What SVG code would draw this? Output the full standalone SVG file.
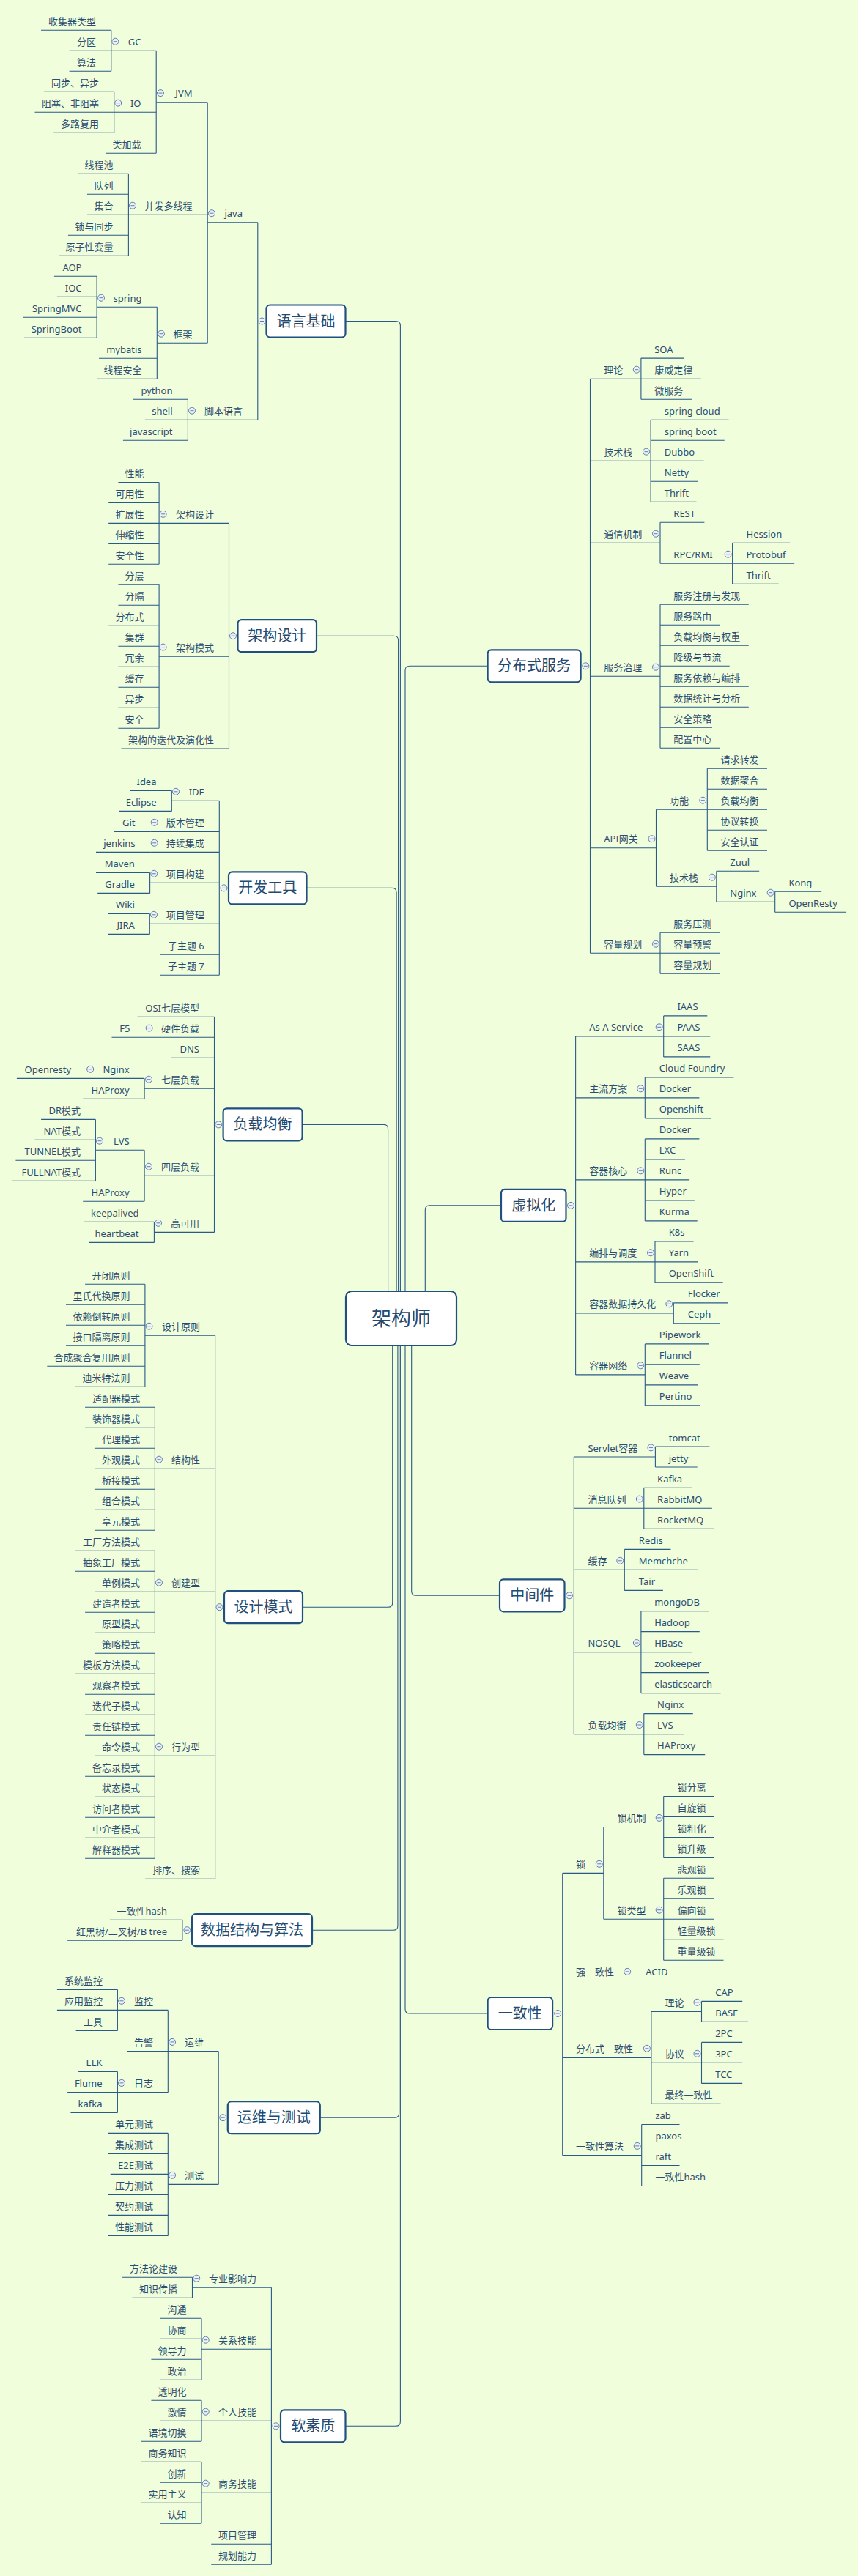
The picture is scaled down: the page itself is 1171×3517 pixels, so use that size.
<svg xmlns="http://www.w3.org/2000/svg" xmlns:xlink="http://www.w3.org/1999/xlink" width="1171" height="3517" viewBox="0 0 1171 3517">
<style>
.t{font-family:"Noto Sans","Noto Sans CJK SC",sans-serif;font-size:13px;fill:#2d4d70}
.e{text-anchor:end}
.m{font-size:20px;text-anchor:middle;fill:#244a70}
.u,.k{fill:none;stroke:#2a5a88;stroke-width:1.1}
.box{fill:#fff;stroke:#1f5080;stroke-width:2.2}
</style>
<defs>
<g id="cc"><circle r="4.5" fill="#eef2f7" stroke="#5d7fa6" stroke-width="1"/><path d="M-2.5 0H2.5" stroke="#5d7fa6" stroke-width="1"/></g>
</defs>
<rect width="1171" height="3517" fill="#f0fedc"/>

<g id="connectors" class="k">
<path d="M471.5 438.5H540.4Q546.4 438.5 546.4 444.5V1800"/>
<path d="M432 868.2H537.6Q543.6 868.2 543.6 874.2V1800"/>
<path d="M418.5 1212.4H535.1Q541.1 1212.4 541.1 1218.4V1800"/>
<path d="M412.5 1535.4H523.6Q529.6 1535.4 529.6 1541.4V1800"/>
<path d="M413 2194.2H529.7Q535.7 2194.2 535.7 2188.2V1800"/>
<path d="M426 2635.2H536.9Q542.9 2635.2 542.9 2629.2V1800"/>
<path d="M437 2891.2H538.6Q544.6 2891.2 544.6 2885.2V1800"/>
<path d="M471.5 3312.3H540.4Q546.4 3312.3 546.4 3306.3V1800"/>
<path d="M665.6 909.3H559Q553 909.3 553 915.3V1800"/>
<path d="M684 1645.9H586.3Q580.3 1645.9 580.3 1651.9V1800"/>
<path d="M682 2178.3H567.7Q561.7 2178.3 561.7 2172.3V1800"/>
<path d="M665.6 2749H559Q553 2749 553 2743V1800"/>
<path d="M151.8 41.3V97.3M155.7 125.3V181.3M213.2 69.3V209.3M175.4 237.3V349.3M132.1 377.3V461.3M214.3 419.3V517.3M283.2 139.7V468.3M256.4 545.3V601.3M351.8 303.8V573.3"/>
<path d="M217.1 658.6V770.3M217.1 798.2V994.2M312.5 714.4V1022.1"/>
<path d="M234.3 1079.4V1107.4M204.6 1191.4V1219.4M204.3 1247.4V1275.4M299.3 1093.4V1331.3"/>
<path d="M197.1 1472.4V1500.4M130.4 1528.4V1612.3M197.1 1570.3V1640.3M210.4 1668.4V1696.4M292.5 1388.3V1682.4"/>
<path d="M197.9 1753.3V1893.3M211.4 1921.3V2089.3M211.4 2117.3V2229.3M211.4 2257.3V2537.3M293.6 1823.3V2565.3"/>
<path d="M248.9 2621.2V2649.2"/>
<path d="M160.4 2716.4V2772.4M160.4 2828.5V2884.5M229.3 2744.4V2856.5M229.3 2912.4V3052.4M298.2 2800.5V2982.4"/>
<path d="M262.5 3109.3V3137.3M275 3165.3V3249.3M275 3277.3V3333.3M275 3361.3V3445.3M370.4 3123.3V3501.3"/>
<path d="M874.9 489.1V545.3M888.1 573.3V685.3M999.6 741.3V797.3M901 713.3V769.3M901 825.3V1021.3M965.3 1049.3V1161.3M1057.7 1217.3V1245.3M977.8 1189.3V1231.3M895.5 1105.3V1210.3M901 1273.3V1329.3M805.5 517.3V1301.3"/>
<path d="M905.7 1386.9V1442.9M880.3 1470.9V1526.9M880.3 1554.9V1666.9M894 1694.9V1750.9M919.3 1778.9V1806.9M880.3 1834.9V1918.9M785.6 1414.9V1876.9"/>
<path d="M894.4 1975V2003M878.8 2031.2V2087.2M852.3 2115.4V2171.4M874.9 2199.6V2311.6M878.8 2339.6V2395.6M783.3 1989V2367.6"/>
<path d="M905.7 2452.5V2536.5M905.7 2564.3V2676.3M823.8 2494.5V2620.3M957.5 2732.4V2760.4M957.5 2788.4V2844.4M888.9 2746.4V2872.4M875.7 2900.5V2984.5M767.7 2557.4V2942.5"/>
</g>

<g id="center"><rect class="box" x="472" y="1763" width="151" height="74" rx="8"/><text class="t m" x="547.5" y="1809.5" style="font-size:27px">架构师</text></g>

<!-- 语言基础 -->
<g id="yuyan"><rect class="box" x="363.5" y="416.5" width="108" height="44" rx="5"/><text class="t m" x="417.5" y="445.5">语言基础</text><use href="#cc" x="357.5" y="438.5"/></g>
<g id="java"><text class="t e" x="331" y="296.3">java</text><use href="#cc" x="289" y="291.2"/><path class="u" d="M283.2 303.8H351.8"/></g>
<g id="jvm"><text class="t e" x="262.5" y="132.2">JVM</text><use href="#cc" x="219" y="127.1"/><path class="u" d="M213.2 139.7H283.2"/></g>
<g id="gc"><text class="t e" x="192.5" y="61.8">GC</text><use href="#cc" x="157.3" y="56.7"/><path class="u" d="M151.8 69.3H213.2"/></g>
<g id="gc1"><text class="t e" x="131" y="33.8">收集器类型</text><path class="u" d="M56 41.3H151.8"/></g>
<g id="gc2"><text class="t e" x="131" y="61.8">分区</text><path class="u" d="M94.6 69.3H151.8"/></g>
<g id="gc3"><text class="t e" x="131" y="89.8">算法</text><path class="u" d="M94.6 97.3H151.8"/></g>
<g id="io"><text class="t e" x="192.5" y="145.8">IO</text><use href="#cc" x="161.2" y="140.7"/><path class="u" d="M155.7 153.3H213.2"/></g>
<g id="io1"><text class="t e" x="135" y="117.8">同步、异步</text><path class="u" d="M60 125.3H155.7"/></g>
<g id="io2"><text class="t e" x="135" y="145.8">阻塞、非阻塞</text><path class="u" d="M47.5 153.3H155.7"/></g>
<g id="io3"><text class="t e" x="135" y="173.8">多路复用</text><path class="u" d="M73.2 181.3H155.7"/></g>
<g id="cl"><text class="t e" x="192.5" y="201.8">类加载</text><path class="u" d="M144 209.3H213.2"/></g>
<g id="bf"><text class="t e" x="262.5" y="285.8">并发多线程</text><use href="#cc" x="181" y="280.7"/><path class="u" d="M175.4 293.3H283.2"/></g>
<g id="bf1"><text class="t e" x="154.5" y="229.8">线程池</text><path class="u" d="M106.4 237.3H175.4"/></g>
<g id="bf2"><text class="t e" x="154.5" y="257.8">队列</text><path class="u" d="M119 265.3H175.4"/></g>
<g id="bf3"><text class="t e" x="154.5" y="285.8">集合</text><path class="u" d="M119 293.3H175.4"/></g>
<g id="bf4"><text class="t e" x="154.5" y="313.8">锁与同步</text><path class="u" d="M92.9 321.3H175.4"/></g>
<g id="bf5"><text class="t e" x="154.5" y="341.8">原子性变量</text><path class="u" d="M80.4 349.3H175.4"/></g>
<g id="kj"><text class="t e" x="262.5" y="460.8">框架</text><use href="#cc" x="220" y="455.7"/><path class="u" d="M214.3 468.3H283.2"/></g>
<g id="sp"><text class="t e" x="193.5" y="411.8">spring</text><use href="#cc" x="138" y="406.7"/><path class="u" d="M132.1 419.3H214.3"/></g>
<g id="sp1"><text class="t e" x="111.5" y="369.8">AOP</text><path class="u" d="M73.9 377.3H132.1"/></g>
<g id="sp2"><text class="t e" x="111.5" y="397.8">IOC</text><path class="u" d="M77.9 405.3H132.1"/></g>
<g id="sp3"><text class="t e" x="111.5" y="425.8">SpringMVC</text><path class="u" d="M31.4 433.3H132.1"/></g>
<g id="sp4"><text class="t e" x="111.5" y="453.8">SpringBoot</text><path class="u" d="M32.9 461.3H132.1"/></g>
<g id="kj2"><text class="t e" x="193.5" y="481.8">mybatis</text><path class="u" d="M135 489.3H214.3"/></g>
<g id="kj3"><text class="t e" x="193.5" y="509.8">线程安全</text><path class="u" d="M132.1 517.3H214.3"/></g>
<g id="jb"><text class="t e" x="331" y="565.8">脚本语言</text><use href="#cc" x="262" y="560.7"/><path class="u" d="M256.4 573.3H351.8"/></g>
<g id="jb1"><text class="t e" x="235.5" y="537.8">python</text><path class="u" d="M181 545.3H256.4"/></g>
<g id="jb2"><text class="t e" x="235.5" y="565.8">shell</text><path class="u" d="M198 573.3H256.4"/></g>
<g id="jb3"><text class="t e" x="235.5" y="593.8">javascript</text><path class="u" d="M167.9 601.3H256.4"/></g>

<!-- 架构设计 -->
<g id="jg"><rect class="box" x="324.5" y="846.2" width="107.5" height="44" rx="5"/><text class="t m" x="378.3" y="875.2">架构设计</text><use href="#cc" x="318" y="868.2"/></g>
<g id="jgs"><text class="t e" x="292" y="706.9">架构设计</text><use href="#cc" x="222.6" y="701.8"/><path class="u" d="M217.1 714.4H312.5"/></g>
<g id="jgs1"><text class="t e" x="196.5" y="651.1">性能</text><path class="u" d="M161.4 658.6H217.1"/></g>
<g id="jgs2"><text class="t e" x="196.5" y="679">可用性</text><path class="u" d="M148.2 686.5H217.1"/></g>
<g id="jgs3"><text class="t e" x="196.5" y="706.9">扩展性</text><path class="u" d="M148.2 714.4H217.1"/></g>
<g id="jgs4"><text class="t e" x="196.5" y="734.9">伸缩性</text><path class="u" d="M148.2 742.4H217.1"/></g>
<g id="jgs5"><text class="t e" x="196.5" y="762.8">安全性</text><path class="u" d="M148.2 770.3H217.1"/></g>
<g id="jgm"><text class="t e" x="292" y="888.7">架构模式</text><use href="#cc" x="222.6" y="883.6"/><path class="u" d="M217.1 896.2H312.5"/></g>
<g id="jgm1"><text class="t e" x="196.5" y="790.7">分层</text><path class="u" d="M161.4 798.2H217.1"/></g>
<g id="jgm2"><text class="t e" x="196.5" y="818.7">分隔</text><path class="u" d="M161.4 826.2H217.1"/></g>
<g id="jgm3"><text class="t e" x="196.5" y="846.7">分布式</text><path class="u" d="M148.2 854.2H217.1"/></g>
<g id="jgm4"><text class="t e" x="196.5" y="874.7">集群</text><path class="u" d="M161.4 882.2H217.1"/></g>
<g id="jgm5"><text class="t e" x="196.5" y="902.7">冗余</text><path class="u" d="M161.4 910.2H217.1"/></g>
<g id="jgm6"><text class="t e" x="196.5" y="930.7">缓存</text><path class="u" d="M161.4 938.2H217.1"/></g>
<g id="jgm7"><text class="t e" x="196.5" y="958.7">异步</text><path class="u" d="M161.4 966.2H217.1"/></g>
<g id="jgm8"><text class="t e" x="196.5" y="986.7">安全</text><path class="u" d="M161.4 994.2H217.1"/></g>
<g id="jgd"><text class="t e" x="292" y="1014.6">架构的迭代及演化性</text><path class="u" d="M165.4 1022.1H312.5"/></g>

<!-- 开发工具 -->
<g id="kf"><rect class="box" x="312" y="1190.4" width="106.5" height="44" rx="5"/><text class="t m" x="365.3" y="1219.4">开发工具</text><use href="#cc" x="305.5" y="1212.4"/></g>
<g id="ide"><text class="t e" x="278.8" y="1085.9">IDE</text><use href="#cc" x="240" y="1080.8"/><path class="u" d="M234.3 1093.4H299.3"/></g>
<g id="ide1"><text class="t e" x="213.5" y="1071.9">Idea</text><path class="u" d="M177.5 1079.4H234.3"/></g>
<g id="ide2"><text class="t e" x="213.5" y="1099.9">Eclipse</text><path class="u" d="M162.5 1107.4H234.3"/></g>
<g id="vc"><text class="t e" x="278.8" y="1127.9">版本管理</text><use href="#cc" x="210.7" y="1122.8"/><path class="u" d="M205.2 1135.4H299.3"/></g>
<g id="vc1"><text class="t e" x="184.5" y="1127.9">Git</text><path class="u" d="M156 1135.4H205.2"/></g>
<g id="ci"><text class="t e" x="278.8" y="1155.9">持续集成</text><use href="#cc" x="210.7" y="1150.8"/><path class="u" d="M205.2 1163.4H299.3"/></g>
<g id="ci1"><text class="t e" x="184.5" y="1155.9">jenkins</text><path class="u" d="M131 1163.4H205.2"/></g>
<g id="pb"><text class="t e" x="278.8" y="1197.9">项目构建</text><use href="#cc" x="210.3" y="1192.8"/><path class="u" d="M204.6 1205.4H299.3"/></g>
<g id="pb1"><text class="t e" x="183.8" y="1183.9">Maven</text><path class="u" d="M131 1191.4H204.6"/></g>
<g id="pb2"><text class="t e" x="183.8" y="1211.9">Gradle</text><path class="u" d="M133.2 1219.4H204.6"/></g>
<g id="pm"><text class="t e" x="278.8" y="1253.9">项目管理</text><use href="#cc" x="210" y="1248.8"/><path class="u" d="M204.3 1261.4H299.3"/></g>
<g id="pm1"><text class="t e" x="183.8" y="1239.9">Wiki</text><path class="u" d="M147.5 1247.4H204.3"/></g>
<g id="pm2"><text class="t e" x="183.8" y="1267.9">JIRA</text><path class="u" d="M147.5 1275.4H204.3"/></g>
<g id="st6"><text class="t e" x="278.8" y="1295.8">子主题 6</text><path class="u" d="M218.2 1303.3H299.3"/></g>
<g id="st7"><text class="t e" x="278.8" y="1323.8">子主题 7</text><path class="u" d="M218.2 1331.3H299.3"/></g>

<!-- 负载均衡 -->
<g id="lb"><rect class="box" x="304.6" y="1513.4" width="108" height="44" rx="5"/><text class="t m" x="358.6" y="1542.4">负载均衡</text><use href="#cc" x="298.2" y="1535.4"/></g>
<g id="lb1"><text class="t e" x="272" y="1380.8">OSI七层模型</text><path class="u" d="M187.5 1388.3H292.5"/></g>
<g id="lb2"><text class="t e" x="272" y="1408.7">硬件负载</text><use href="#cc" x="203.6" y="1403.6"/><path class="u" d="M198 1416.2H292.5"/></g>
<g id="lb2a"><text class="t e" x="177.5" y="1408.7">F5</text><path class="u" d="M152.5 1416.2H198"/></g>
<g id="lb3"><text class="t e" x="272" y="1436.7">DNS</text><path class="u" d="M232.9 1444.2H292.5"/></g>
<g id="lb4"><text class="t e" x="272" y="1478.8">七层负载</text><use href="#cc" x="203" y="1473.7"/><path class="u" d="M197.1 1486.3H292.5"/></g>
<g id="lb4a"><text class="t e" x="176.6" y="1464.9">Nginx</text><use href="#cc" x="123.2" y="1459.8"/><path class="u" d="M117.7 1472.4H197.1"/></g>
<g id="lb4a1"><text class="t e" x="97.1" y="1464.9">Openresty</text><path class="u" d="M22.9 1472.4H117.7"/></g>
<g id="lb4b"><text class="t e" x="176.6" y="1492.9">HAProxy</text><path class="u" d="M113.2 1500.4H197.1"/></g>
<g id="lb5"><text class="t e" x="272" y="1597.8">四层负载</text><use href="#cc" x="203" y="1592.7"/><path class="u" d="M197.1 1605.3H292.5"/></g>
<g id="lvs"><text class="t e" x="176.6" y="1562.8">LVS</text><use href="#cc" x="136" y="1557.7"/><path class="u" d="M130.4 1570.3H197.1"/></g>
<g id="lvs1"><text class="t e" x="110" y="1520.9">DR模式</text><path class="u" d="M56.1 1528.4H130.4"/></g>
<g id="lvs2"><text class="t e" x="110" y="1548.9">NAT模式</text><path class="u" d="M47.5 1556.4H130.4"/></g>
<g id="lvs3"><text class="t e" x="110" y="1576.8">TUNNEL模式</text><path class="u" d="M21.4 1584.3H130.4"/></g>
<g id="lvs4"><text class="t e" x="110" y="1604.8">FULLNAT模式</text><path class="u" d="M16.4 1612.3H130.4"/></g>
<g id="lb5b"><text class="t e" x="176.6" y="1632.8">HAProxy</text><path class="u" d="M113.2 1640.3H197.1"/></g>
<g id="lb6"><text class="t e" x="272" y="1674.9">高可用</text><use href="#cc" x="216" y="1669.8"/><path class="u" d="M210.4 1682.4H292.5"/></g>
<g id="lb6a"><text class="t e" x="189.5" y="1660.9">keepalived</text><path class="u" d="M115 1668.4H210.4"/></g>
<g id="lb6b"><text class="t e" x="189.5" y="1688.9">heartbeat</text><path class="u" d="M121.4 1696.4H210.4"/></g>

<!-- 设计模式 -->
<g id="dp"><rect class="box" x="306" y="2172.2" width="107" height="44" rx="5"/><text class="t m" x="359.5" y="2201.2">设计模式</text><use href="#cc" x="299.5" y="2194.2"/></g>
<g id="dpa"><text class="t e" x="273" y="1815.8">设计原则</text><use href="#cc" x="203.5" y="1810.7"/><path class="u" d="M197.9 1823.3H293.6"/></g>
<g id="dpa1"><text class="t e" x="177.5" y="1745.8">开闭原则</text><path class="u" d="M116.1 1753.3H197.9"/></g>
<g id="dpa2"><text class="t e" x="177.5" y="1773.8">里氏代换原则</text><path class="u" d="M90 1781.3H197.9"/></g>
<g id="dpa3"><text class="t e" x="177.5" y="1801.8">依赖倒转原则</text><path class="u" d="M90 1809.3H197.9"/></g>
<g id="dpa4"><text class="t e" x="177.5" y="1829.8">接口隔离原则</text><path class="u" d="M90 1837.3H197.9"/></g>
<g id="dpa5"><text class="t e" x="177.5" y="1857.8">合成聚合复用原则</text><path class="u" d="M64.3 1865.3H197.9"/></g>
<g id="dpa6"><text class="t e" x="177.5" y="1885.8">迪米特法则</text><path class="u" d="M102.9 1893.3H197.9"/></g>
<g id="dpb"><text class="t e" x="273" y="1997.8">结构性</text><use href="#cc" x="217" y="1992.7"/><path class="u" d="M211.4 2005.3H293.6"/></g>
<g id="dpb1"><text class="t e" x="191" y="1913.8">适配器模式</text><path class="u" d="M116.1 1921.3H211.4"/></g>
<g id="dpb2"><text class="t e" x="191" y="1941.8">装饰器模式</text><path class="u" d="M116.1 1949.3H211.4"/></g>
<g id="dpb3"><text class="t e" x="191" y="1969.8">代理模式</text><path class="u" d="M128.9 1977.3H211.4"/></g>
<g id="dpb4"><text class="t e" x="191" y="1997.8">外观模式</text><path class="u" d="M128.9 2005.3H211.4"/></g>
<g id="dpb5"><text class="t e" x="191" y="2025.8">桥接模式</text><path class="u" d="M128.9 2033.3H211.4"/></g>
<g id="dpb6"><text class="t e" x="191" y="2053.8">组合模式</text><path class="u" d="M128.9 2061.3H211.4"/></g>
<g id="dpb7"><text class="t e" x="191" y="2081.8">享元模式</text><path class="u" d="M128.9 2089.3H211.4"/></g>
<g id="dpc"><text class="t e" x="273" y="2165.8">创建型</text><use href="#cc" x="217" y="2160.7"/><path class="u" d="M211.4 2173.3H293.6"/></g>
<g id="dpc1"><text class="t e" x="191" y="2109.8">工厂方法模式</text><path class="u" d="M102.9 2117.3H211.4"/></g>
<g id="dpc2"><text class="t e" x="191" y="2137.8">抽象工厂模式</text><path class="u" d="M102.9 2145.3H211.4"/></g>
<g id="dpc3"><text class="t e" x="191" y="2165.8">单例模式</text><path class="u" d="M128.9 2173.3H211.4"/></g>
<g id="dpc4"><text class="t e" x="191" y="2193.8">建造者模式</text><path class="u" d="M116.1 2201.3H211.4"/></g>
<g id="dpc5"><text class="t e" x="191" y="2221.8">原型模式</text><path class="u" d="M128.9 2229.3H211.4"/></g>
<g id="dpd"><text class="t e" x="273" y="2389.8">行为型</text><use href="#cc" x="217" y="2384.7"/><path class="u" d="M211.4 2397.3H293.6"/></g>
<g id="dpd1"><text class="t e" x="191" y="2249.8">策略模式</text><path class="u" d="M128.9 2257.3H211.4"/></g>
<g id="dpd2"><text class="t e" x="191" y="2277.8">模板方法模式</text><path class="u" d="M102.9 2285.3H211.4"/></g>
<g id="dpd3"><text class="t e" x="191" y="2305.8">观察者模式</text><path class="u" d="M116.1 2313.3H211.4"/></g>
<g id="dpd4"><text class="t e" x="191" y="2333.8">迭代子模式</text><path class="u" d="M116.1 2341.3H211.4"/></g>
<g id="dpd5"><text class="t e" x="191" y="2361.8">责任链模式</text><path class="u" d="M116.1 2369.3H211.4"/></g>
<g id="dpd6"><text class="t e" x="191" y="2389.8">命令模式</text><path class="u" d="M128.9 2397.3H211.4"/></g>
<g id="dpd7"><text class="t e" x="191" y="2417.8">备忘录模式</text><path class="u" d="M116.1 2425.3H211.4"/></g>
<g id="dpd8"><text class="t e" x="191" y="2445.8">状态模式</text><path class="u" d="M128.9 2453.3H211.4"/></g>
<g id="dpd9"><text class="t e" x="191" y="2473.8">访问者模式</text><path class="u" d="M116.1 2481.3H211.4"/></g>
<g id="dpd10"><text class="t e" x="191" y="2501.8">中介者模式</text><path class="u" d="M116.1 2509.3H211.4"/></g>
<g id="dpd11"><text class="t e" x="191" y="2529.8">解释器模式</text><path class="u" d="M116.1 2537.3H211.4"/></g>
<g id="dpe"><text class="t e" x="273" y="2557.8">排序、搜索</text><path class="u" d="M198.2 2565.3H293.6"/></g>

<!-- 数据结构与算法 -->
<g id="ds"><rect class="box" x="262" y="2613.2" width="164" height="44" rx="5"/><text class="t m" x="344" y="2642.2">数据结构与算法</text><use href="#cc" x="255.4" y="2635.2"/></g>
<g id="ds1"><text class="t e" x="228" y="2613.7">一致性hash</text><path class="u" d="M150 2621.2H248.9"/></g>
<g id="ds2"><text class="t e" x="228" y="2641.7">红黑树/二叉树/B tree</text><path class="u" d="M92.1 2649.2H248.9"/></g>

<!-- 运维与测试 -->
<g id="ops"><rect class="box" x="310.8" y="2869.2" width="126" height="44" rx="5"/><text class="t m" x="373.8" y="2898.2">运维与测试</text><use href="#cc" x="304.3" y="2891.2"/></g>
<g id="yw"><text class="t e" x="278" y="2793">运维</text><use href="#cc" x="235" y="2787.9"/><path class="u" d="M229.3 2800.5H298.2"/></g>
<g id="jk"><text class="t e" x="209" y="2736.9">监控</text><use href="#cc" x="166" y="2731.8"/><path class="u" d="M160.4 2744.4H229.3"/></g>
<g id="jk1"><text class="t e" x="140" y="2708.9">系统监控</text><path class="u" d="M77.9 2716.4H160.4"/></g>
<g id="jk2"><text class="t e" x="140" y="2736.9">应用监控</text><path class="u" d="M77.9 2744.4H160.4"/></g>
<g id="jk3"><text class="t e" x="140" y="2764.9">工具</text><path class="u" d="M103.6 2772.4H160.4"/></g>
<g id="gj"><text class="t e" x="209" y="2793">告警</text><path class="u" d="M173.2 2800.5H229.3"/></g>
<g id="rz"><text class="t e" x="209" y="2849">日志</text><use href="#cc" x="166" y="2843.9"/><path class="u" d="M160.4 2856.5H229.3"/></g>
<g id="rz1"><text class="t e" x="139.5" y="2821">ELK</text><path class="u" d="M107.1 2828.5H160.4"/></g>
<g id="rz2"><text class="t e" x="139.5" y="2849">Flume</text><path class="u" d="M92.1 2856.5H160.4"/></g>
<g id="rz3"><text class="t e" x="139.5" y="2877">kafka</text><path class="u" d="M96.4 2884.5H160.4"/></g>
<g id="cs"><text class="t e" x="278" y="2974.9">测试</text><use href="#cc" x="235" y="2969.8"/><path class="u" d="M229.3 2982.4H298.2"/></g>
<g id="cs1"><text class="t e" x="209" y="2904.9">单元测试</text><path class="u" d="M147.1 2912.4H229.3"/></g>
<g id="cs2"><text class="t e" x="209" y="2932.9">集成测试</text><path class="u" d="M147.1 2940.4H229.3"/></g>
<g id="cs3"><text class="t e" x="209" y="2960.9">E2E测试</text><path class="u" d="M150.7 2968.4H229.3"/></g>
<g id="cs4"><text class="t e" x="209" y="2988.9">压力测试</text><path class="u" d="M147.1 2996.4H229.3"/></g>
<g id="cs5"><text class="t e" x="209" y="3016.9">契约测试</text><path class="u" d="M147.1 3024.4H229.3"/></g>
<g id="cs6"><text class="t e" x="209" y="3044.9">性能测试</text><path class="u" d="M147.1 3052.4H229.3"/></g>

<!-- 软素质 -->
<g id="soft"><rect class="box" x="383" y="3290.3" width="88.5" height="44" rx="5"/><text class="t m" x="427.2" y="3319.3">软素质</text><use href="#cc" x="376.5" y="3312.3"/></g>
<g id="sf1"><text class="t e" x="350" y="3115.8">专业影响力</text><use href="#cc" x="268.2" y="3110.7"/><path class="u" d="M262.5 3123.3H370.4"/></g>
<g id="sf1a"><text class="t e" x="242" y="3101.8">方法论建设</text><path class="u" d="M167.1 3109.3H262.5"/></g>
<g id="sf1b"><text class="t e" x="242" y="3129.8">知识传播</text><path class="u" d="M180.4 3137.3H262.5"/></g>
<g id="sf2"><text class="t e" x="350" y="3199.8">关系技能</text><use href="#cc" x="280.7" y="3194.7"/><path class="u" d="M275 3207.3H370.4"/></g>
<g id="sf2a"><text class="t e" x="254.5" y="3157.8">沟通</text><path class="u" d="M218.9 3165.3H275"/></g>
<g id="sf2b"><text class="t e" x="254.5" y="3185.8">协商</text><path class="u" d="M218.9 3193.3H275"/></g>
<g id="sf2c"><text class="t e" x="254.5" y="3213.8">领导力</text><path class="u" d="M206.4 3221.3H275"/></g>
<g id="sf2d"><text class="t e" x="254.5" y="3241.8">政治</text><path class="u" d="M218.9 3249.3H275"/></g>
<g id="sf3"><text class="t e" x="350" y="3297.8">个人技能</text><use href="#cc" x="280.7" y="3292.7"/><path class="u" d="M275 3305.3H370.4"/></g>
<g id="sf3a"><text class="t e" x="254.5" y="3269.8">透明化</text><path class="u" d="M206.4 3277.3H275"/></g>
<g id="sf3b"><text class="t e" x="254.5" y="3297.8">激情</text><path class="u" d="M218.9 3305.3H275"/></g>
<g id="sf3c"><text class="t e" x="254.5" y="3325.8">语境切换</text><path class="u" d="M192.9 3333.3H275"/></g>
<g id="sf4"><text class="t e" x="350" y="3395.8">商务技能</text><use href="#cc" x="280.7" y="3390.7"/><path class="u" d="M275 3403.3H370.4"/></g>
<g id="sf4a"><text class="t e" x="254.5" y="3353.8">商务知识</text><path class="u" d="M192.9 3361.3H275"/></g>
<g id="sf4b"><text class="t e" x="254.5" y="3381.8">创新</text><path class="u" d="M218.9 3389.3H275"/></g>
<g id="sf4c"><text class="t e" x="254.5" y="3409.8">实用主义</text><path class="u" d="M192.9 3417.3H275"/></g>
<g id="sf4d"><text class="t e" x="254.5" y="3437.8">认知</text><path class="u" d="M218.9 3445.3H275"/></g>
<g id="sf5"><text class="t e" x="350" y="3465.8">项目管理</text><path class="u" d="M288.2 3473.3H370.4"/></g>
<g id="sf6"><text class="t e" x="350" y="3493.8">规划能力</text><path class="u" d="M288.2 3501.3H370.4"/></g>

<!-- 分布式服务 -->
<g id="dist"><rect class="box" x="665.6" y="887.3" width="127" height="44" rx="5"/><text class="t m" x="729.1" y="916.3">分布式服务</text><use href="#cc" x="799.3" y="909.3"/></g>
<g id="ll"><text class="t" x="824.2" y="509.8">理论</text><use href="#cc" x="868.8" y="504.7"/><path class="u" d="M805.5 517.3H874.9"/></g>
<g id="ll1"><text class="t" x="893.2" y="481.6">SOA</text><path class="u" d="M874.9 489.1H933.3"/></g>
<g id="ll2"><text class="t" x="893.2" y="509.8">康威定律</text><path class="u" d="M874.9 517.3H956.7"/></g>
<g id="ll3"><text class="t" x="893.2" y="537.8">微服务</text><path class="u" d="M874.9 545.3H943.9"/></g>
<g id="js"><text class="t" x="824.2" y="621.8">技术栈</text><use href="#cc" x="882" y="616.7"/><path class="u" d="M805.5 629.3H888.1"/></g>
<g id="js1"><text class="t" x="906.8" y="565.8">spring cloud</text><path class="u" d="M888.1 573.3H994.5"/></g>
<g id="js2"><text class="t" x="906.8" y="593.8">spring boot</text><path class="u" d="M888.1 601.3H988.7"/></g>
<g id="js3"><text class="t" x="906.8" y="621.8">Dubbo</text><path class="u" d="M888.1 629.3H960.6"/></g>
<g id="js4"><text class="t" x="906.8" y="649.8">Netty</text><path class="u" d="M888.1 657.3H952.8"/></g>
<g id="js5"><text class="t" x="906.8" y="677.8">Thrift</text><path class="u" d="M888.1 685.3H950.5"/></g>
<g id="tx"><text class="t" x="824.2" y="733.8">通信机制</text><use href="#cc" x="895" y="728.7"/><path class="u" d="M805.5 741.3H901"/></g>
<g id="tx1"><text class="t" x="919.3" y="705.8">REST</text><path class="u" d="M901 713.3H961.4"/></g>
<g id="tx2"><text class="t" x="919.3" y="761.8">RPC/RMI</text><use href="#cc" x="993.6" y="756.7"/><path class="u" d="M901 769.3H999.6"/></g>
<g id="tx2a"><text class="t" x="1018.5" y="733.8">Hession</text><path class="u" d="M999.6 741.3H1078.3"/></g>
<g id="tx2b"><text class="t" x="1018.5" y="761.8">Protobuf</text><path class="u" d="M999.6 769.3H1084.2"/></g>
<g id="tx2c"><text class="t" x="1018.5" y="789.8">Thrift</text><path class="u" d="M999.6 797.3H1062.7"/></g>
<g id="zl"><text class="t" x="824.2" y="915.8">服务治理</text><use href="#cc" x="895" y="910.7"/><path class="u" d="M805.5 923.3H901"/></g>
<g id="zl1"><text class="t" x="919.3" y="817.8">服务注册与发现</text><path class="u" d="M901 825.3H1021.8"/></g>
<g id="zl2"><text class="t" x="919.3" y="845.8">服务路由</text><path class="u" d="M901 853.3H982.8"/></g>
<g id="zl3"><text class="t" x="919.3" y="873.8">负载均衡与权重</text><path class="u" d="M901 881.3H1021.8"/></g>
<g id="zl4"><text class="t" x="919.3" y="901.8">降级与节流</text><path class="u" d="M901 909.3H995.7"/></g>
<g id="zl5"><text class="t" x="919.3" y="929.8">服务依赖与编排</text><path class="u" d="M901 937.3H1021.8"/></g>
<g id="zl6"><text class="t" x="919.3" y="957.8">数据统计与分析</text><path class="u" d="M901 965.3H1021.8"/></g>
<g id="zl7"><text class="t" x="919.3" y="985.8">安全策略</text><path class="u" d="M901 993.3H972"/></g>
<g id="zl8"><text class="t" x="919.3" y="1013.8">配置中心</text><path class="u" d="M901 1021.3H982.8"/></g>
<g id="api"><text class="t" x="824.2" y="1150.3">API网关</text><use href="#cc" x="889.5" y="1145.2"/><path class="u" d="M805.5 1157.8H895.5"/></g>
<g id="gn"><text class="t" x="914" y="1097.8">功能</text><use href="#cc" x="959.3" y="1092.7"/><path class="u" d="M895.5 1105.3H965.3"/></g>
<g id="gn1"><text class="t" x="983.6" y="1041.8">请求转发</text><path class="u" d="M965.3 1049.3H1047"/></g>
<g id="gn2"><text class="t" x="983.6" y="1069.8">数据聚合</text><path class="u" d="M965.3 1077.3H1047"/></g>
<g id="gn3"><text class="t" x="983.6" y="1097.8">负载均衡</text><path class="u" d="M965.3 1105.3H1047"/></g>
<g id="gn4"><text class="t" x="983.6" y="1125.8">协议转换</text><path class="u" d="M965.3 1133.3H1047"/></g>
<g id="gn5"><text class="t" x="983.6" y="1153.8">安全认证</text><path class="u" d="M965.3 1161.3H1047"/></g>
<g id="js6"><text class="t" x="914" y="1202.8">技术栈</text><use href="#cc" x="971.8" y="1197.7"/><path class="u" d="M895.5 1210.3H977.8"/></g>
<g id="js6a"><text class="t" x="996.3" y="1181.8">Zuul</text><path class="u" d="M977.8 1189.3H1036.2"/></g>
<g id="js6b"><text class="t" x="996.3" y="1223.8">Nginx</text><use href="#cc" x="1051.7" y="1218.7"/><path class="u" d="M977.8 1231.3H1057.7"/></g>
<g id="js6b1"><text class="t" x="1076.4" y="1209.8">Kong</text><path class="u" d="M1057.7 1217.3H1121.2"/></g>
<g id="js6b2"><text class="t" x="1076.4" y="1237.8">OpenResty</text><path class="u" d="M1057.7 1245.3H1155.1"/></g>
<g id="rl"><text class="t" x="824.2" y="1293.8">容量规划</text><use href="#cc" x="895" y="1288.7"/><path class="u" d="M805.5 1301.3H901"/></g>
<g id="rl1"><text class="t" x="919.3" y="1265.8">服务压测</text><path class="u" d="M901 1273.3H982.8"/></g>
<g id="rl2"><text class="t" x="919.3" y="1293.8">容量预警</text><path class="u" d="M901 1301.3H982.8"/></g>
<g id="rl3"><text class="t" x="919.3" y="1321.8">容量规划</text><path class="u" d="M901 1329.3H982.8"/></g>

<!-- 虚拟化 -->
<g id="virt"><rect class="box" x="684" y="1623.9" width="88.5" height="44" rx="5"/><text class="t m" x="728.2" y="1652.9">虚拟化</text><use href="#cc" x="779" y="1645.9"/></g>
<g id="aas"><text class="t" x="804.3" y="1407.4">As A Service</text><use href="#cc" x="899.7" y="1402.3"/><path class="u" d="M785.6 1414.9H905.7"/></g>
<g id="aas1"><text class="t" x="924.4" y="1379.4">IAAS</text><path class="u" d="M905.7 1386.9H965.3"/></g>
<g id="aas2"><text class="t" x="924.4" y="1407.4">PAAS</text><path class="u" d="M905.7 1414.9H969.2"/></g>
<g id="aas3"><text class="t" x="924.4" y="1435.4">SAAS</text><path class="u" d="M905.7 1442.9H969.2"/></g>
<g id="zlfa"><text class="t" x="804.3" y="1491.4">主流方案</text><use href="#cc" x="874.3" y="1486.3"/><path class="u" d="M785.6 1498.9H880.3"/></g>
<g id="zlfa1"><text class="t" x="899.8" y="1463.4">Cloud Foundry</text><path class="u" d="M880.3 1470.9H1001.5"/></g>
<g id="zlfa2"><text class="t" x="899.8" y="1491.4">Docker</text><path class="u" d="M880.3 1498.9H954.4"/></g>
<g id="zlfa3"><text class="t" x="899.8" y="1519.4">Openshift</text><path class="u" d="M880.3 1526.9H971.1"/></g>
<g id="rqhx"><text class="t" x="804.3" y="1603.4">容器核心</text><use href="#cc" x="874.3" y="1598.3"/><path class="u" d="M785.6 1610.9H880.3"/></g>
<g id="rqhx1"><text class="t" x="899.8" y="1547.4">Docker</text><path class="u" d="M880.3 1554.9H954.4"/></g>
<g id="rqhx2"><text class="t" x="899.8" y="1575.4">LXC</text><path class="u" d="M880.3 1582.9H934.9"/></g>
<g id="rqhx3"><text class="t" x="899.8" y="1603.4">Runc</text><path class="u" d="M880.3 1610.9H941.1"/></g>
<g id="rqhx4"><text class="t" x="899.8" y="1631.4">Hyper</text><path class="u" d="M880.3 1638.9H947.8"/></g>
<g id="rqhx5"><text class="t" x="899.8" y="1659.4">Kurma</text><path class="u" d="M880.3 1666.9H951.7"/></g>
<g id="bp"><text class="t" x="804.3" y="1715.4">编排与调度</text><use href="#cc" x="888" y="1710.3"/><path class="u" d="M785.6 1722.9H894"/></g>
<g id="bp1"><text class="t" x="912.7" y="1687.4">K8s</text><path class="u" d="M894 1694.9H946.6"/></g>
<g id="bp2"><text class="t" x="912.7" y="1715.4">Yarn</text><path class="u" d="M894 1722.9H952.8"/></g>
<g id="bp3"><text class="t" x="912.7" y="1743.4">OpenShift</text><path class="u" d="M894 1750.9H986.7"/></g>
<g id="cjh"><text class="t" x="804.3" y="1785.4">容器数据持久化</text><use href="#cc" x="913.3" y="1780.3"/><path class="u" d="M785.6 1792.9H919.3"/></g>
<g id="cjh1"><text class="t" x="938.8" y="1771.4">Flocker</text><path class="u" d="M919.3 1778.9H993.7"/></g>
<g id="cjh2"><text class="t" x="938.8" y="1799.4">Ceph</text><path class="u" d="M919.3 1806.9H982.8"/></g>
<g id="rqwl"><text class="t" x="804.3" y="1869.4">容器网络</text><use href="#cc" x="874.3" y="1864.3"/><path class="u" d="M785.6 1876.9H880.3"/></g>
<g id="rqwl1"><text class="t" x="899.8" y="1827.4">Pipework</text><path class="u" d="M880.3 1834.9H968"/></g>
<g id="rqwl2"><text class="t" x="899.8" y="1855.4">Flannel</text><path class="u" d="M880.3 1862.9H954.8"/></g>
<g id="rqwl3"><text class="t" x="899.8" y="1883.4">Weave</text><path class="u" d="M880.3 1890.9H952.8"/></g>
<g id="rqwl4"><text class="t" x="899.8" y="1911.4">Pertino</text><path class="u" d="M880.3 1918.9H955.6"/></g>

<!-- 中间件 -->
<g id="mid"><rect class="box" x="682" y="2156.3" width="88.5" height="44" rx="5"/><text class="t m" x="726.2" y="2185.3">中间件</text><use href="#cc" x="777" y="2178.3"/></g>
<g id="sv"><text class="t" x="802.4" y="1981.5">Servlet容器</text><use href="#cc" x="888.4" y="1976.4"/><path class="u" d="M783.3 1989H894.4"/></g>
<g id="sv1"><text class="t" x="912.7" y="1967.5">tomcat</text><path class="u" d="M894.4 1975H968.4"/></g>
<g id="sv2"><text class="t" x="912.7" y="1995.5">jetty</text><path class="u" d="M894.4 2003H951.7"/></g>
<g id="mq"><text class="t" x="802.4" y="2051.7">消息队列</text><use href="#cc" x="872.8" y="2046.6"/><path class="u" d="M783.3 2059.2H878.8"/></g>
<g id="mq1"><text class="t" x="897.1" y="2023.7">Kafka</text><path class="u" d="M878.8 2031.2H943.9"/></g>
<g id="mq2"><text class="t" x="897.1" y="2051.7">RabbitMQ</text><path class="u" d="M878.8 2059.2H971.9"/></g>
<g id="mq3"><text class="t" x="897.1" y="2079.7">RocketMQ</text><path class="u" d="M878.8 2087.2H974.7"/></g>
<g id="hc"><text class="t" x="802.4" y="2135.9">缓存</text><use href="#cc" x="846.3" y="2130.8"/><path class="u" d="M783.3 2143.4H852.3"/></g>
<g id="hc1"><text class="t" x="871.8" y="2107.9">Redis</text><path class="u" d="M852.3 2115.4H915.4"/></g>
<g id="hc2"><text class="t" x="871.8" y="2135.9">Memchche</text><path class="u" d="M852.3 2143.4H952.8"/></g>
<g id="hc3"><text class="t" x="871.8" y="2163.9">Tair</text><path class="u" d="M852.3 2171.4H904.9"/></g>
<g id="ns"><text class="t" x="802.4" y="2248.1">NOSQL</text><use href="#cc" x="868.9" y="2243"/><path class="u" d="M783.3 2255.6H874.9"/></g>
<g id="ns1"><text class="t" x="893.2" y="2192.1">mongoDB</text><path class="u" d="M874.9 2199.6H968"/></g>
<g id="ns2"><text class="t" x="893.2" y="2220.1">Hadoop</text><path class="u" d="M874.9 2227.6H954.8"/></g>
<g id="ns3"><text class="t" x="893.2" y="2248.1">HBase</text><path class="u" d="M874.9 2255.6H943.9"/></g>
<g id="ns4"><text class="t" x="893.2" y="2276.1">zookeeper</text><path class="u" d="M874.9 2283.6H968"/></g>
<g id="ns5"><text class="t" x="893.2" y="2304.1">elasticsearch</text><path class="u" d="M874.9 2311.6H983.6"/></g>
<g id="mlb"><text class="t" x="802.4" y="2360.1">负载均衡</text><use href="#cc" x="872.8" y="2355"/><path class="u" d="M783.3 2367.6H878.8"/></g>
<g id="mlb1"><text class="t" x="897.1" y="2332.1">Nginx</text><path class="u" d="M878.8 2339.6H945.8"/></g>
<g id="mlb2"><text class="t" x="897.1" y="2360.1">LVS</text><path class="u" d="M878.8 2367.6H933"/></g>
<g id="mlb3"><text class="t" x="897.1" y="2388.1">HAProxy</text><path class="u" d="M878.8 2395.6H962.2"/></g>

<!-- 一致性 -->
<g id="cons"><rect class="box" x="665.6" y="2727" width="88.5" height="44" rx="5"/><text class="t m" x="709.8" y="2756">一致性</text><use href="#cc" x="761.2" y="2749"/></g>
<g id="suo"><text class="t" x="786" y="2549.9">锁</text><use href="#cc" x="817.8" y="2544.8"/><path class="u" d="M767.7 2557.4H823.8"/></g>
<g id="sjz"><text class="t" x="842.5" y="2487">锁机制</text><use href="#cc" x="899.7" y="2481.9"/><path class="u" d="M823.8 2494.5H905.7"/></g>
<g id="sjz1"><text class="t" x="924.4" y="2445">锁分离</text><path class="u" d="M905.7 2452.5H974.3"/></g>
<g id="sjz2"><text class="t" x="924.4" y="2473">自旋锁</text><path class="u" d="M905.7 2480.5H974.3"/></g>
<g id="sjz3"><text class="t" x="924.4" y="2501">锁粗化</text><path class="u" d="M905.7 2508.5H974.3"/></g>
<g id="sjz4"><text class="t" x="924.4" y="2529">锁升级</text><path class="u" d="M905.7 2536.5H974.3"/></g>
<g id="slx"><text class="t" x="842.5" y="2612.8">锁类型</text><use href="#cc" x="899.7" y="2607.7"/><path class="u" d="M823.8 2620.3H905.7"/></g>
<g id="slx1"><text class="t" x="924.4" y="2556.8">悲观锁</text><path class="u" d="M905.7 2564.3H974.3"/></g>
<g id="slx2"><text class="t" x="924.4" y="2584.8">乐观锁</text><path class="u" d="M905.7 2592.3H974.3"/></g>
<g id="slx3"><text class="t" x="924.4" y="2612.8">偏向锁</text><path class="u" d="M905.7 2620.3H974.3"/></g>
<g id="slx4"><text class="t" x="924.4" y="2640.8">轻量级锁</text><path class="u" d="M905.7 2648.3H987.5"/></g>
<g id="slx5"><text class="t" x="924.4" y="2668.8">重量级锁</text><path class="u" d="M905.7 2676.3H987.5"/></g>
<g id="qyz"><text class="t" x="786" y="2697">强一致性</text><use href="#cc" x="856.2" y="2691.9"/><path class="u" d="M767.7 2704.5H862.4"/></g>
<g id="qyz1"><text class="t" x="881.3" y="2697">ACID</text><path class="u" d="M862.4 2704.5H925.2"/></g>
<g id="fyz"><text class="t" x="786" y="2801.9">分布式一致性</text><use href="#cc" x="882.9" y="2796.8"/><path class="u" d="M767.7 2809.4H888.9"/></g>
<g id="fll"><text class="t" x="907.6" y="2738.9">理论</text><use href="#cc" x="951.5" y="2733.8"/><path class="u" d="M888.9 2746.4H957.5"/></g>
<g id="fll1"><text class="t" x="976.2" y="2724.9">CAP</text><path class="u" d="M957.5 2732.4H1013.2"/></g>
<g id="fll2"><text class="t" x="976.2" y="2752.9">BASE</text><path class="u" d="M957.5 2760.4H1021"/></g>
<g id="xy"><text class="t" x="907.6" y="2808.9">协议</text><use href="#cc" x="951.5" y="2803.8"/><path class="u" d="M888.9 2816.4H957.5"/></g>
<g id="xy1"><text class="t" x="976.2" y="2780.9">2PC</text><path class="u" d="M957.5 2788.4H1013.2"/></g>
<g id="xy2"><text class="t" x="976.2" y="2808.9">3PC</text><path class="u" d="M957.5 2816.4H1013.2"/></g>
<g id="xy3"><text class="t" x="976.2" y="2836.9">TCC</text><path class="u" d="M957.5 2844.4H1013.2"/></g>
<g id="zzyz"><text class="t" x="907.6" y="2864.9">最终一致性</text><path class="u" d="M888.9 2872.4H983.6"/></g>
<g id="yzsf"><text class="t" x="786" y="2935">一致性算法</text><use href="#cc" x="869.7" y="2929.9"/><path class="u" d="M767.7 2942.5H875.7"/></g>
<g id="yzsf1"><text class="t" x="894.4" y="2893">zab</text><path class="u" d="M875.7 2900.5H927.5"/></g>
<g id="yzsf2"><text class="t" x="894.4" y="2921">paxos</text><path class="u" d="M875.7 2928.5H942.7"/></g>
<g id="yzsf3"><text class="t" x="894.4" y="2949">raft</text><path class="u" d="M875.7 2956.5H927.5"/></g>
<g id="yzsf4"><text class="t" x="894.4" y="2977">一致性hash</text><path class="u" d="M875.7 2984.5H974.3"/></g>
</svg>
